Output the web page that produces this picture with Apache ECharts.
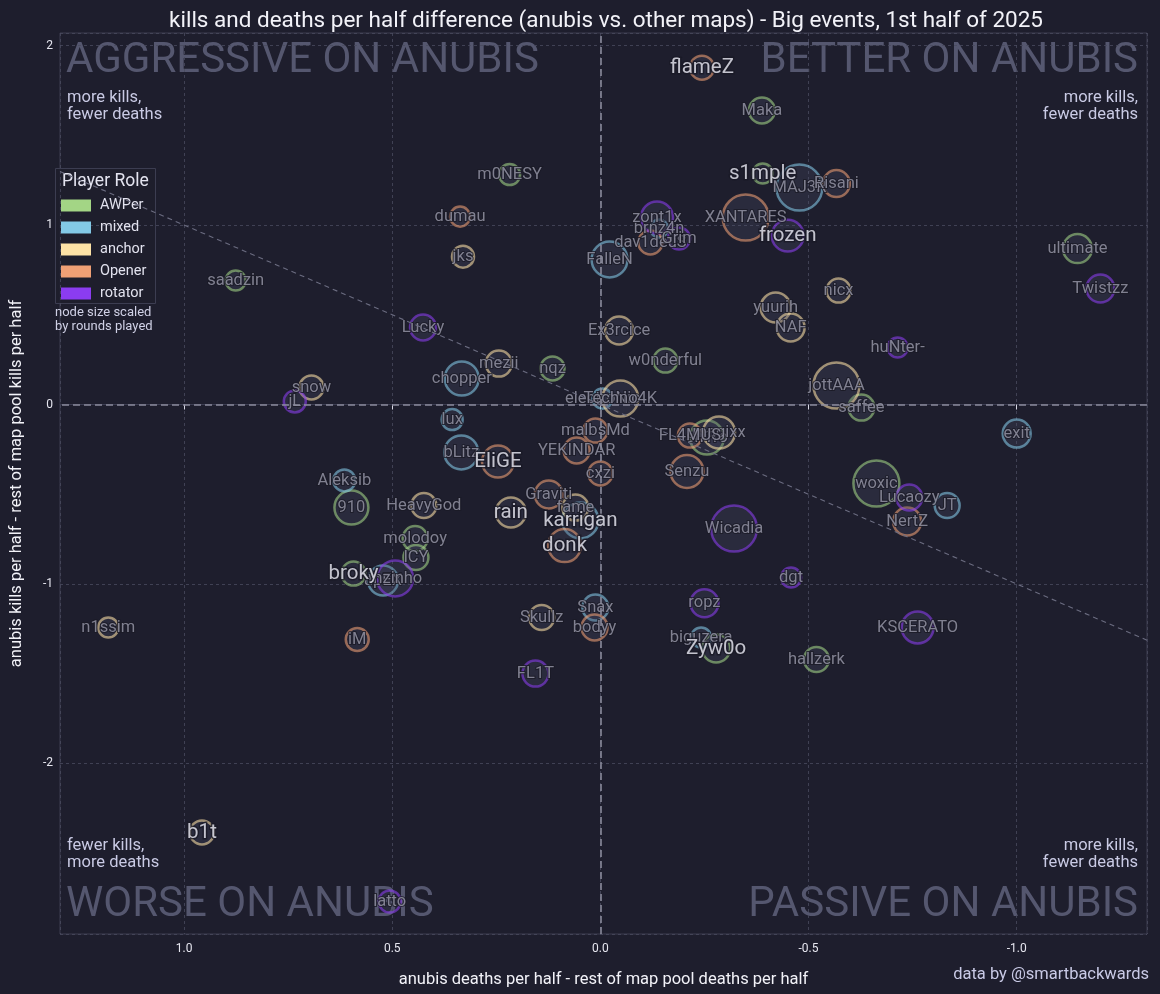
<!DOCTYPE html>
<html>
<head>
<meta charset="utf-8">
<script src="https://cdn.jsdelivr.net/npm/echarts@6/dist/echarts.min.js"></script>
<style>
  html, body { margin: 0; padding: 0; background: #1e1e2d; }
  #chart { width: 1160px; height: 994px; }
</style>
</head>
<body>
<div id="chart"></div>
<script>
// anubis minus rest-of-pool, per half
const players = ['flameZ', 'Maka', 'm0NESY', 's1mple', 'MAJ3R', 'Risani', 'dumau', 'zont1x', 'brnz4n', 'dav1deuS',
  'Grim', 'XANTARES', 'frozen', 'FalleN', 'ultimate', 'jks', 'saadzin', 'Twistzz', 'nicx', 'yuurih',
  'NAF', 'Lucky', 'Ex3rcice', 'huNter-', 'w0nderful', 'mezii', 'nqz', 'chopper', 'snow', 'jL',
  'jottAAA', 'saffee', 'electroNic', 'Techno4K', 'exit', 'lux', 'malbsMd', 'FL4MUS', 'magixx', 'sh1ro',
  'bLitz', 'YEKINDAR', 'EliGE', 'Senzu', 'cxzi', 'Aleksib', 'woxic', 'Graviti', 'Lucaozy', 'HeavyGod',
  'JT', '910', 'fame', 'rain', 'karrigan', 'NertZ', 'Wicadia', 'molodoy', 'donk', 'ICY',
  'broky', 'mzinho', 'apEX', 'dgt', 'ropz', 'Snax', 'Skullz', 'bodyy', 'n1ssim', 'KSCERATO',
  'biguzera', 'iM', 'Zyw0o', 'hallzerk', 'FL1T', 'b1t', 'latto']
const deathDiff = [-0.244, -0.388, 0.218, -0.390, -0.478, -0.567, 0.337, -0.136, -0.141, -0.120,
  -0.189, -0.349, -0.450, -0.022, -1.146, 0.330, 0.876, -1.201, -0.572, -0.421,
  -0.457, 0.426, -0.045, -0.714, -0.156, 0.244, 0.115, 0.333, 0.694, 0.734,
  -0.567, -0.627, -0.005, -0.048, -1.000, 0.356, 0.012, -0.215, -0.285, -0.256,
  0.334, 0.057, 0.246, -0.208, 0.000, 0.615, -0.663, 0.124, -0.742, 0.424,
  -0.833, 0.598, 0.060, 0.215, 0.048, -0.737, -0.321, 0.445, 0.086, 0.443,
  0.593, 0.493, 0.522, -0.458, -0.250, 0.012, 0.141, 0.014, 1.182, -0.762,
  -0.242, 0.584, -0.278, -0.519, 0.156, 0.957, 0.506]
const killDiff = [1.877, 1.638, 1.281, 1.287, 1.209, 1.231, 1.047, 1.042, 0.981, 0.903,
  0.925, 1.042, 0.941, 0.808, 0.869, 0.824, 0.691, 0.646, 0.635, 0.540,
  0.429, 0.429, 0.412, 0.318, 0.245, 0.228, 0.201, 0.145, 0.095, 0.017,
  0.106, -0.017, 0.033, 0.033, -0.162, -0.084, -0.145, -0.173, -0.156, -0.184,
  -0.267, -0.256, -0.318, -0.373, -0.384, -0.423, -0.440, -0.501, -0.518, -0.563,
  -0.563, -0.574, -0.574, -0.602, -0.646, -0.652, -0.691, -0.747, -0.786, -0.852,
  -0.942, -0.969, -0.981, -0.964, -1.107, -1.131, -1.187, -1.242, -1.242, -1.242,
  -1.298, -1.309, -1.359, -1.421, -1.499, -2.384, -2.769]
const roles = ['Opener', 'AWPer', 'AWPer', 'AWPer', 'mixed', 'Opener', 'Opener', 'rotator', 'mixed', 'Opener',
  'rotator', 'Opener', 'rotator', 'mixed', 'AWPer', 'anchor', 'AWPer', 'rotator', 'anchor', 'anchor',
  'anchor', 'rotator', 'anchor', 'rotator', 'AWPer', 'anchor', 'AWPer', 'mixed', 'anchor', 'rotator',
  'anchor', 'AWPer', 'mixed', 'anchor', 'mixed', 'mixed', 'Opener', 'Opener', 'anchor', 'AWPer',
  'mixed', 'Opener', 'Opener', 'Opener', 'Opener', 'mixed', 'AWPer', 'Opener', 'rotator', 'anchor',
  'mixed', 'AWPer', 'anchor', 'anchor', 'mixed', 'Opener', 'rotator', 'AWPer', 'Opener', 'AWPer',
  'AWPer', 'rotator', 'mixed', 'rotator', 'rotator', 'mixed', 'anchor', 'Opener', 'anchor', 'rotator',
  'mixed', 'Opener', 'AWPer', 'AWPer', 'rotator', 'anchor', 'rotator']
const rounds = [119, 140, 91, 83, 437, 150, 83, 211, 67, 119,
  100, 437, 211, 268, 174, 100, 83, 162, 119, 186,
  162, 140, 162, 83, 119, 140, 119, 239, 119, 100,
  437, 140, 83, 268, 162, 91, 119, 119, 211, 239,
  239, 140, 211, 225, 119, 100, 437, 162, 140, 129,
  129, 239, 140, 186, 268, 162, 437, 129, 225, 129,
  119, 268, 186, 83, 162, 140, 129, 140, 83, 211,
  83, 109, 162, 129, 140, 119, 100]
const featured = ['flameZ', 's1mple', 'frozen', 'EliGE', 'rain', 'karrigan', 'donk', 'broky', 'Zyw0o', 'b1t']

const roleNames = ['AWPer', 'mixed', 'anchor', 'Opener', 'rotator']
const roleColors = { AWPer: '#a3d585', mixed: '#83c9e6', anchor: '#fde2a6', Opener: '#f0a075', rotator: '#8b3cf0' }

const xMin = -1.313
const xMax = 1.298
const yMin = -2.95
const yMax = 2.07

const FONT = 'Roboto'

function rgba(hex, a) {
  const n = parseInt(hex.slice(1), 16)
  return `rgba(${(n >> 16) & 255},${(n >> 8) & 255},${n & 255},${a})`
}

function bubbleSize(r) {
  return 2.2 * Math.sqrt(r)
}

const roleSeries = roleNames.map(role => {
  const data = []
  players.forEach((p, i) => {
    if (roles[i] !== role) return
    const item = {
      name: p,
      value: [deathDiff[i], killDiff[i]],
      symbolSize: bubbleSize(rounds[i])
    }
    if (featured.includes(p)) item.label = { show: false }
    data.push(item)
  })
  return {
    type: 'scatter',
    name: role,
    z: 3,
    data: data,
    itemStyle: {
      color: 'rgba(78,80,108,0.32)',
      borderColor: rgba(roleColors[role], 0.72),
      borderWidth: 2.5
    },
    label: {
      show: true,
      position: 'inside',
      formatter: '{b}',
      fontFamily: FONT,
      fontSize: 16.5,
      color: '#9a9aab',
      textBorderColor: '#1a1a26',
      textBorderWidth: 2
    },
    emphasis: { disabled: true }
  }
})

// big white names drawn last so they sit on top
const featuredSeries = {
  type: 'scatter',
  name: 'featured',
  z: 5,
  symbolSize: 0,
  data: featured.map(p => {
    const i = players.indexOf(p)
    return { name: p, value: [deathDiff[i], killDiff[i]] }
  }),
  label: {
    show: true,
    position: 'inside',
    formatter: '{b}',
    fontFamily: FONT,
    fontSize: 20.5,
    color: '#eeeef8',
    textBorderColor: '#191925',
    textBorderWidth: 3
  },
  emphasis: { disabled: true },
  silent: true
}

const refSeries = {
  type: 'scatter',
  name: 'ref',
  z: 1,
  data: [],
  silent: true,
  markLine: {
    silent: true,
    symbol: ['none', 'none'],
    label: { show: false },
    data: [
      { xAxis: 0, lineStyle: { color: '#8a8b9c', type: [7, 4], width: 1.6 } },
      { yAxis: 0, lineStyle: { color: '#8a8b9c', type: [7, 4], width: 1.6 } },
      [
        { coord: [xMax, xMax], lineStyle: { color: '#6b6c80', type: [5, 4], width: 1.1 } },
        { coord: [xMin, xMin] }
      ]
    ]
  }
}

const chart = echarts.init(document.getElementById('chart'))

const smallText = { fontFamily: FONT, fontSize: 16.5, fill: '#c9cae4', lineHeight: 17 }
const bigText = { fontFamily: FONT, fontSize: 42, fill: '#55576f' }

chart.setOption({
  backgroundColor: '#1e1e2d',
  animation: false,
  title: {
    text: 'kills and deaths per half difference (anubis vs. other maps) - Big events, 1st half of 2025',
    left: 601,
    top: 5,
    textAlign: 'center',
    textStyle: { fontFamily: FONT, fontSize: 22.5, fontWeight: 'normal', color: '#f2f2f8' }
  },
  grid: {
    left: 55,
    right: 13,
    top: 33,
    bottom: 60,
    show: true,
    borderColor: '#3c3d51',
    borderWidth: 1,
    backgroundColor: 'transparent'
  },
  legend: {
    data: roleNames.map(r => ({
      name: r,
      icon: 'rect',
      itemStyle: { color: roleColors[r], opacity: 1, borderWidth: 0, borderColor: 'transparent' }
    })),
    orient: 'vertical',
    left: 56,
    top: 193,
    itemWidth: 30,
    itemHeight: 12,
    itemGap: 7,
    selectedMode: false,
    textStyle: { fontFamily: FONT, fontSize: 14.5, color: '#e2e2ee', padding: [0, 0, 0, 4] }
  },
  xAxis: {
    type: 'value',
    inverse: true,
    min: xMin,
    max: xMax,
    minInterval: 0.5,
    maxInterval: 0.5,
    name: 'anubis deaths per half - rest of map pool deaths per half',
    nameLocation: 'middle',
    nameGap: 37,
    nameTextStyle: { fontFamily: FONT, fontSize: 16.5, color: '#f2f2f8' },
    axisLine: { lineStyle: { color: '#3c3d51' } },
    axisTick: { show: true, length: 5, lineStyle: { color: '#d8d8e4' } },
    axisLabel: {
      showMinLabel: false,
      showMaxLabel: false,
      fontFamily: FONT,
      fontSize: 12,
      color: '#e6e6ef',
      margin: 9,
      formatter: v => v.toFixed(1)
    },
    splitLine: { lineStyle: { color: '#4a4b5f', type: [3, 3], width: 0.8 } }
  },
  yAxis: {
    type: 'value',
    min: yMin,
    max: yMax,
    minInterval: 1,
    maxInterval: 1,
    name: 'anubis kills per half - rest of map pool kills per half',
    nameLocation: 'middle',
    nameGap: 35,
    nameTextStyle: { fontFamily: FONT, fontSize: 16.5, color: '#f2f2f8' },
    axisLine: { show: false },
    axisTick: { show: false },
    axisLabel: {
      showMinLabel: false,
      showMaxLabel: false,
      fontFamily: FONT,
      fontSize: 12,
      color: '#e6e6ef',
      margin: 7
    },
    splitLine: { lineStyle: { color: '#4a4b5f', type: [3, 3], width: 0.8 } }
  },
  graphic: [
    { type: 'text', z: 0, style: Object.assign({ text: 'AGGRESSIVE ON ANUBIS', x: 66, y: 61, textVerticalAlign: 'middle' }, bigText) },
    { type: 'text', z: 0, style: Object.assign({ text: 'BETTER ON ANUBIS', x: 1138, y: 61, textAlign: 'right', textVerticalAlign: 'middle' }, bigText) },
    { type: 'text', z: 0, style: Object.assign({ text: 'WORSE ON ANUBIS', x: 66, y: 905, textVerticalAlign: 'middle' }, bigText) },
    { type: 'text', z: 0, style: Object.assign({ text: 'PASSIVE ON ANUBIS', x: 1138, y: 905, textAlign: 'right', textVerticalAlign: 'middle' }, bigText) },
    { type: 'text', z: 0, style: Object.assign({ text: 'more kills,\nfewer deaths', x: 67, y: 106, textVerticalAlign: 'middle' }, smallText) },
    { type: 'text', z: 0, style: Object.assign({ text: 'more kills,\nfewer deaths', x: 1138, y: 106, textAlign: 'right', textVerticalAlign: 'middle' }, smallText) },
    { type: 'text', z: 0, style: Object.assign({ text: 'fewer kills,\nmore deaths', x: 67, y: 854, textVerticalAlign: 'middle' }, smallText) },
    { type: 'text', z: 0, style: Object.assign({ text: 'more kills,\nfewer deaths', x: 1138, y: 854, textAlign: 'right', textVerticalAlign: 'middle' }, smallText) },
    { type: 'rect', z: 0, shape: { x: 55.5, y: 168.5, width: 100, height: 135 }, style: { fill: 'rgba(30,30,45,0.85)', stroke: '#3c3d51', lineWidth: 1 } },
    { type: 'text', z: 2, style: { text: 'Player Role', x: 62, y: 182, textVerticalAlign: 'middle', fontFamily: FONT, fontSize: 17.5, fill: '#e4e4f0' } },
    { type: 'text', z: 2, style: { text: 'node size scaled\nby rounds played', x: 55, y: 320, textVerticalAlign: 'middle', fontFamily: FONT, fontSize: 13, lineHeight: 14, fill: '#d0d1e6' } },
    { type: 'text', z: 2, style: { text: 'data by @smartbackwards', x: 1149, y: 975, textAlign: 'right', textVerticalAlign: 'middle', fontFamily: FONT, fontSize: 16.5, fill: '#c9cae6' } }
  ],
  series: [refSeries].concat(roleSeries, [featuredSeries])
})
</script>
</body>
</html>
